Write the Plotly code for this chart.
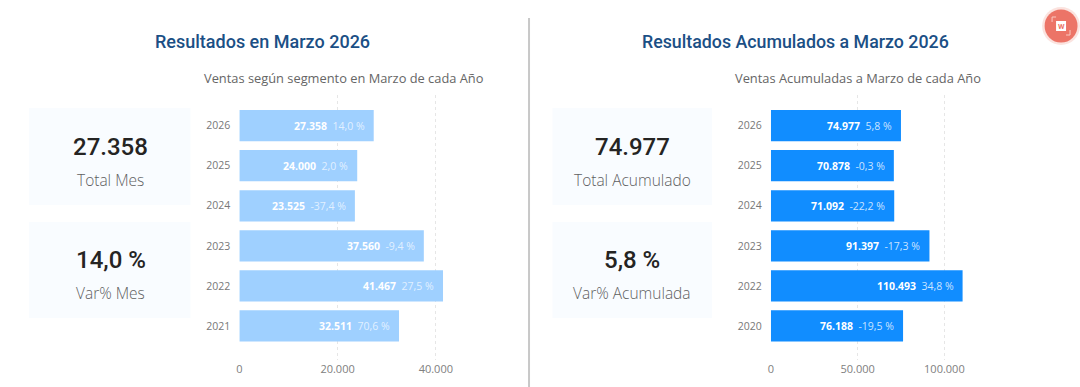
import plotly.graph_objects as go

W, H = 1080, 387

years_left = ["2026", "2025", "2024", "2023", "2022", "2021"]
sales_left = [27358, 24000, 23525, 37560, 41467, 32511]
var_left = ["14,0 %", "2,0 %", "-37,4 %", "-9,4 %", "27,5 %", "70,6 %"]
ticks_left = [0, 20000, 40000]
tick_text_left = ["0", "20.000", "40.000"]

years_right = ["2026", "2025", "2024", "2023", "2022", "2020"]
sales_right = [74977, 70878, 71092, 91397, 110493, 76188]
var_right = ["5,8 %", "-0,3 %", "-22,2 %", "-17,3 %", "34,8 %", "-19,5 %"]
ticks_right = [0, 50000, 100000]
tick_text_right = ["0", "50.000", "100.000"]

titles = ["Resultados en Marzo 2026", "Resultados Acumulados a Marzo 2026"]
subtitles = ["Ventas según segmento en Marzo de cada Año", "Ventas Acumuladas a Marzo de cada Año"]
kpi_values = ["27.358", "14,0 %", "74.977", "5,8 %"]
kpi_labels = ["Total Mes", "Var% Mes", "Total Acumulado", "Var% Acumulada"]


def fmt(v):
    return f"{v:,}".replace(",", ".")


def px(x):
    return x / W


def py(y):
    return 1 - y / H


BODY = "Open Sans"
HEAD = "Roboto"
fig = go.Figure()
annotations = []
shapes = []

panels = [
    dict(cat=years_left, val=sales_left, var=var_left, ticks=ticks_left, tt=tick_text_left, color="#9FD0FF",
         x0=237, x1=487.5, xmax=50860, xa="xaxis", ya="yaxis", xr="x", yr="y", pct="rgba(255,255,255,0.7)"),
    dict(cat=years_right, val=sales_right, var=var_right, ticks=ticks_right, tt=tick_text_right, color="#118DFF",
         x0=770, x1=1019, xmax=143100, xa="xaxis2", ya="yaxis2", xr="x2", yr="y2", pct="rgba(255,255,255,0.78)"),
]

layout_axes = {}
for p in panels:
    fig.add_trace(go.Bar(
        y=p["cat"], x=p["val"], orientation="h", marker=dict(color=p["color"], line=dict(width=0)),
        width=0.78, xaxis=p["xr"], yaxis=p["yr"], hoverinfo="skip", showlegend=False,
    ))
    layout_axes[p["xa"]] = dict(
        domain=[px(p["x0"]), px(p["x1"])], range=[0, p["xmax"]], tickvals=p["ticks"], ticktext=p["tt"],
        showgrid=True, gridcolor="#E6E6E6", griddash="dot", gridwidth=1, zeroline=False, showline=False,
        ticks="", tickfont=dict(family=BODY, size=11, color="#808080"), anchor=p["yr"], ticklabelstandoff=1,
    )
    layout_axes[p["ya"]] = dict(
        domain=[py(360), py(95)], type="category", range=[5.85, -0.765], categoryorder="array",
        categoryarray=p["cat"], showgrid=False, zeroline=False, showline=False, ticks="",
        tickfont=dict(family=BODY, size=10.5, color="#777777"), anchor=p["xr"], ticklabelstandoff=8,
    )
    # The y axis holds numeric-looking category names, so annotations address rows by position.
    for i, (v, t) in enumerate(zip(p["val"], p["var"])):
        annotations.append(dict(
            x=v, y=i, xref=p["xr"], yref=p["yr"], xanchor="right", yanchor="middle", xshift=-7, showarrow=False,
            text=f"<b>{fmt(v)}</b>&nbsp;&nbsp;<span style='color:{p['pct']}'>{t}</span>",
            font=dict(family=BODY, size=10.5, color="white"),
        ))


def text(x, y, s, size, color, family=BODY, weight=None):
    annotations.append(dict(
        x=px(x), y=py(y), xref="paper", yref="paper", xanchor="center", yanchor="middle", showarrow=False, text=s,
        font=dict(family=family, size=size, color=color, weight=weight),
    ))


text(260, 41, titles[0], 18, "#1B4F85", HEAD, 500)
text(795, 41, titles[1], 17.8, "#1B4F85", HEAD, 500)
text(342, 78, subtitles[0], 12.85, "#666666")
text(857.5, 78, subtitles[1], 12.85, "#666666")

cards = [(26, 188, 108, 205, 108, 147, 180), (26, 188, 222, 318, 108, 260, 293),
         (551, 711, 108, 205, 631, 147, 180), (551, 711, 222, 318, 631, 260, 293)]
for (x0, x1, y0, y1, cx, yv, yl), v, l in zip(cards, kpi_values, kpi_labels):
    shapes.append(dict(type="rect", xref="paper", yref="paper", x0=px(x0), x1=px(x1), y0=py(y0), y1=py(y1),
                       fillcolor="#F9FCFF", line=dict(width=0), layer="below"))
    text(cx, yv, v, 24, "#252423", HEAD, 500)
    text(cx, yl, l, 15.5, "#5F5F5F", BODY, 300)

shapes.append(dict(type="line", xref="paper", yref="paper", x0=px(527.5), x1=px(527.5), y0=py(18), y1=0,
                   line=dict(color="#C8C8C8", width=2)))


def circle(cx, cy, r, color):
    shapes.append(dict(type="circle", xref="paper", yref="paper", x0=px(cx - r), x1=px(cx + r),
                       y0=py(cy + r), y1=py(cy - r), fillcolor=color, line=dict(width=0)))


circle(1061, 26, 19, "#FBE3DF")
circle(1061, 26, 16.5, "#EC7467")
shapes.append(dict(type="rect", xref="paper", yref="paper", x0=px(1056), x1=px(1066), y0=py(31), y1=py(21),
                   fillcolor="#FFFFFF", line=dict(width=0)))
for xs, ys in [((1052, 1052, 1056), (22, 17, 17)), ((1066, 1070, 1070), (35, 35, 30))]:
    path = "M " + " L ".join(f"{px(a):.5f},{py(b):.5f}" for a, b in zip(xs, ys))
    shapes.append(dict(type="path", xref="paper", yref="paper", path=path, line=dict(color="#F9C9C2", width=1)))
text(1061, 26, "<b>W</b>", 7.5, "#EC7467", HEAD)

fig.update_layout(
    width=W, height=H, autosize=False, margin=dict(l=0, r=0, t=0, b=0), paper_bgcolor="white",
    plot_bgcolor="rgba(0,0,0,0)", annotations=annotations, shapes=shapes, bargap=0.22, **layout_axes,
)
fig.write_html("out.html", config=dict(displayModeBar=False),
               post_script="document.body.style.margin='0';document.body.style.overflow='hidden';")
